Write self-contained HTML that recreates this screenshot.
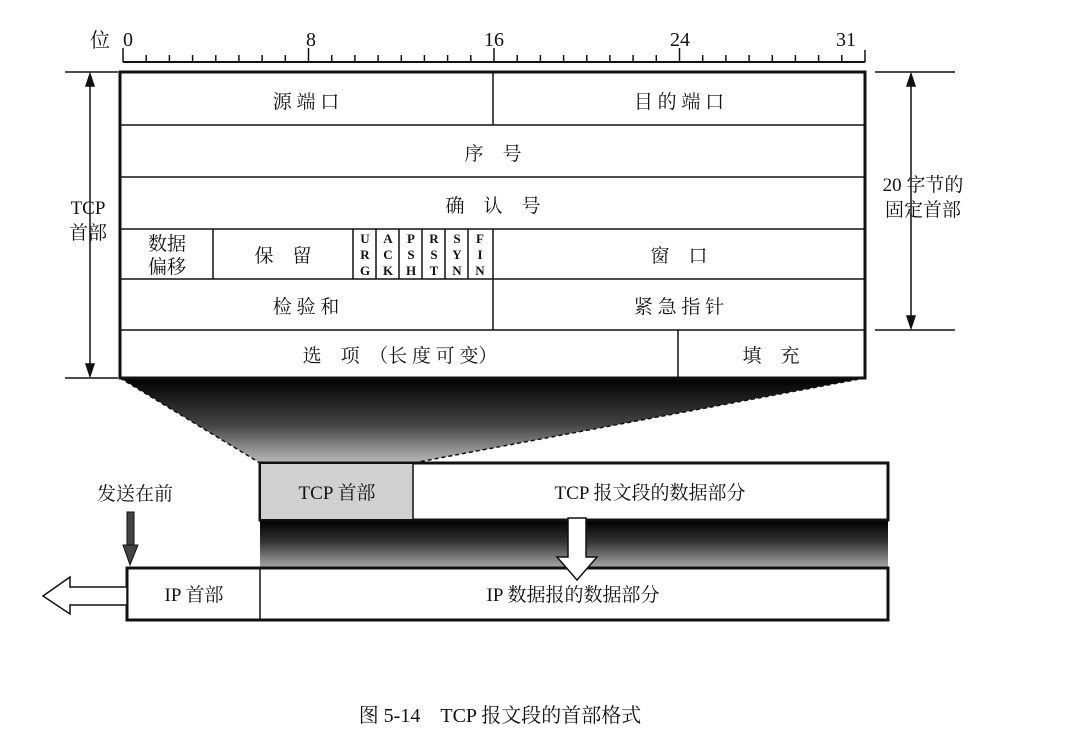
<!DOCTYPE html>
<html><head><meta charset="utf-8"><style>
body{margin:0;background:#fff;}
svg text{font-family:"Liberation Serif","Noto Serif CJK SC","Noto Sans CJK SC",serif;fill:#111;}
</style></head><body>
<svg width="1090" height="736" viewBox="0 0 1090 736" xmlns="http://www.w3.org/2000/svg">
<defs>
<linearGradient id="g1" x1="0" y1="0" x2="0" y2="1">
<stop offset="0" stop-color="#000"/><stop offset="0.55" stop-color="#444"/><stop offset="1" stop-color="#bbb"/>
</linearGradient>
<linearGradient id="g2" x1="0" y1="0" x2="0" y2="1">
<stop offset="0" stop-color="#000"/><stop offset="0.45" stop-color="#333"/><stop offset="1" stop-color="#aaa"/>
</linearGradient>
</defs>
<!-- ruler -->
<text x="90" y="47" font-size="20">位</text>
<g font-size="20" text-anchor="middle">
<text x="128" y="46">0</text><text x="311" y="46">8</text><text x="494" y="46">16</text><text x="680" y="46">24</text><text x="846" y="46">31</text>
</g>
<line x1="123" y1="62" x2="865" y2="62" stroke="#111" stroke-width="2"/>
<g stroke="#111" stroke-width="1.5">
<line x1="123" y1="48" x2="123" y2="62"/><line x1="146.2" y1="55" x2="146.2" y2="62"/><line x1="169.4" y1="55" x2="169.4" y2="62"/><line x1="192.6" y1="55" x2="192.6" y2="62"/>
<line x1="215.8" y1="55" x2="215.8" y2="62"/><line x1="238.9" y1="55" x2="238.9" y2="62"/><line x1="262.1" y1="55" x2="262.1" y2="62"/><line x1="285.3" y1="55" x2="285.3" y2="62"/>
<line x1="308.5" y1="48" x2="308.5" y2="62"/><line x1="331.7" y1="55" x2="331.7" y2="62"/><line x1="354.9" y1="55" x2="354.9" y2="62"/><line x1="378.1" y1="55" x2="378.1" y2="62"/>
<line x1="401.3" y1="55" x2="401.3" y2="62"/><line x1="424.4" y1="55" x2="424.4" y2="62"/><line x1="447.6" y1="55" x2="447.6" y2="62"/><line x1="470.8" y1="55" x2="470.8" y2="62"/>
<line x1="494" y1="48" x2="494" y2="62"/><line x1="517.2" y1="55" x2="517.2" y2="62"/><line x1="540.4" y1="55" x2="540.4" y2="62"/><line x1="563.6" y1="55" x2="563.6" y2="62"/>
<line x1="586.8" y1="55" x2="586.8" y2="62"/><line x1="609.9" y1="55" x2="609.9" y2="62"/><line x1="633.1" y1="55" x2="633.1" y2="62"/><line x1="656.3" y1="55" x2="656.3" y2="62"/>
<line x1="679.5" y1="48" x2="679.5" y2="62"/><line x1="702.7" y1="55" x2="702.7" y2="62"/><line x1="725.9" y1="55" x2="725.9" y2="62"/><line x1="749.1" y1="55" x2="749.1" y2="62"/>
<line x1="772.3" y1="55" x2="772.3" y2="62"/><line x1="795.4" y1="55" x2="795.4" y2="62"/><line x1="818.6" y1="55" x2="818.6" y2="62"/><line x1="841.8" y1="55" x2="841.8" y2="62"/>
<line x1="865" y1="50" x2="865" y2="62"/>
</g>
<!-- trapezoid -->
<polygon points="120,378 865,378 413,463 260,463" fill="url(#g1)"/>
<line x1="120" y1="378" x2="260" y2="463" stroke="#111" stroke-width="1.5" stroke-dasharray="4,3"/>
<line x1="865" y1="378" x2="413" y2="463" stroke="#111" stroke-width="1.5" stroke-dasharray="4,3"/>
<!-- main table -->
<rect x="120" y="72" width="745" height="306" fill="#fff" stroke="#111" stroke-width="3"/>
<g stroke="#111" stroke-width="1.5">
<line x1="120" y1="125" x2="865" y2="125"/><line x1="120" y1="177" x2="865" y2="177"/>
<line x1="120" y1="229" x2="865" y2="229"/><line x1="120" y1="279" x2="865" y2="279"/>
<line x1="120" y1="330" x2="865" y2="330"/>
<line x1="493" y1="72" x2="493" y2="125"/>
<line x1="213" y1="229" x2="213" y2="279"/>
<line x1="353" y1="229" x2="353" y2="279"/><line x1="376" y1="229" x2="376" y2="279"/>
<line x1="399" y1="229" x2="399" y2="279"/><line x1="422" y1="229" x2="422" y2="279"/>
<line x1="445" y1="229" x2="445" y2="279"/><line x1="468" y1="229" x2="468" y2="279"/>
<line x1="493" y1="229" x2="493" y2="330"/>
<line x1="678" y1="330" x2="678" y2="378"/>
</g>
<g font-size="19" text-anchor="middle">
<text x="306" y="108">源 端 口</text><text x="679" y="108">目 的 端 口</text>
<text x="493" y="160">序　号</text><text x="493" y="212">确　认　号</text>
<text x="167" y="250">数据</text><text x="167" y="273">偏移</text>
<text x="283" y="262">保　留</text><text x="679" y="262">窗　口</text>
<text x="306" y="313">检 验 和</text><text x="679" y="313">紧 急 指 针</text>
<text x="400" y="362">选　项　（长 度 可 变）</text><text x="771" y="362">填　充</text>
</g>
<g font-size="13" font-weight="bold" text-anchor="middle">
<text x="365" y="243">U</text><text x="365" y="259">R</text><text x="365" y="275">G</text>
<text x="388" y="243">A</text><text x="388" y="259">C</text><text x="388" y="275">K</text>
<text x="411" y="243">P</text><text x="411" y="259">S</text><text x="411" y="275">H</text>
<text x="434" y="243">R</text><text x="434" y="259">S</text><text x="434" y="275">T</text>
<text x="457" y="243">S</text><text x="457" y="259">Y</text><text x="457" y="275">N</text>
<text x="480" y="243">F</text><text x="480" y="259">I</text><text x="480" y="275">N</text>
</g>
<!-- side arrows -->
<g stroke="#111" stroke-width="1.5" fill="#111">
<line x1="65" y1="72" x2="118" y2="72"/><line x1="65" y1="378" x2="118" y2="378"/>
<line x1="90" y1="78" x2="90" y2="372"/>
<polygon points="90,74 86,86 94,86"/><polygon points="90,376 86,364 94,364"/>
<line x1="875" y1="72" x2="955" y2="72"/><line x1="875" y1="330" x2="955" y2="330"/>
<line x1="911" y1="78" x2="911" y2="324"/>
<polygon points="911,74 907,86 915,86"/><polygon points="911,328 907,316 915,316"/>
</g>
<g font-size="19" text-anchor="middle">
<text x="88" y="214">TCP</text><text x="88" y="239">首部</text>
<text x="923" y="191">20 字节的</text><text x="923" y="216">固定首部</text>
</g>
<!-- TCP segment -->
<rect x="260" y="520" width="628" height="48" fill="url(#g2)"/>
<rect x="260" y="463" width="628" height="57" fill="#fff" stroke="#111" stroke-width="3"/>
<rect x="261" y="464" width="152" height="55" fill="#d0d0d0"/>
<line x1="413" y1="463" x2="413" y2="520" stroke="#111" stroke-width="1.5"/>
<g font-size="19" text-anchor="middle">
<text x="337" y="499">TCP 首部</text><text x="650" y="499">TCP 报文段的数据部分</text>
</g>
<!-- IP datagram -->
<rect x="127" y="568" width="761" height="52" fill="#fff" stroke="#111" stroke-width="3"/>
<line x1="260" y1="568" x2="260" y2="620" stroke="#111" stroke-width="1.5"/>
<g font-size="19" text-anchor="middle">
<text x="194" y="601">IP 首部</text><text x="573" y="601">IP 数据报的数据部分</text>
</g>
<!-- hollow down arrow -->
<polygon points="568,518 586,518 586,557 597,557 577,580 557,557 568,557" fill="#fff" stroke="#111" stroke-width="1.5"/>
<!-- hollow left arrow -->
<polygon points="127,587 70,587 70,577 43,596 70,614 70,605 127,605" fill="#fff" stroke="#111" stroke-width="1.5"/>
<!-- send first -->
<text x="135" y="500" font-size="19" text-anchor="middle">发送在前</text>
<rect x="127" y="512" width="7" height="35" fill="#444" stroke="#111"/>
<polygon points="123,545 138,545 130,565" fill="#444" stroke="#111"/>
<!-- caption -->
<text x="500" y="722" font-size="20" text-anchor="middle">图 5-14　TCP 报文段的首部格式</text>
</svg>
</body></html>
